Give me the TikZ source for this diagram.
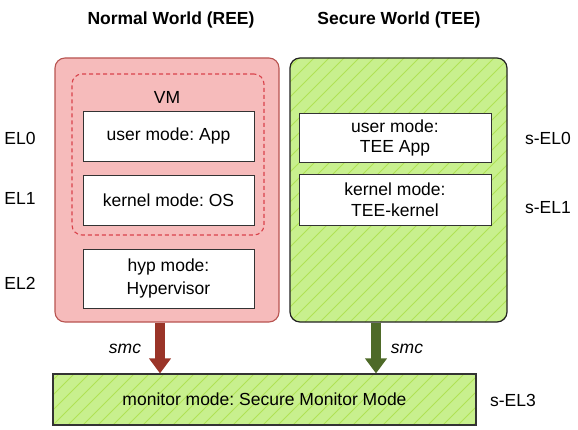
\documentclass[tikz,border=0pt]{standalone}
\usepackage{fontspec}
\setmainfont{Liberation Sans}
\usetikzlibrary{arrows.meta}
\frenchspacing
\definecolor{pinkfill}{HTML}{F6BBBB}
\definecolor{pinkline}{HTML}{B85450}
\definecolor{vmdash}{HTML}{D9434B}
\definecolor{boxline}{HTML}{333333}
\definecolor{greenbg}{HTML}{C8F08E}
\definecolor{hatchcol}{HTML}{B0E255}
\definecolor{swline}{HTML}{222222}
\definecolor{redarr}{HTML}{9A3428}
\definecolor{greenarr}{HTML}{4E6A28}
\begin{document}
\frenchspacing
\begin{tikzpicture}[x=1pt,y=-1pt,
  font=\fontsize{17.5}{21}\selectfont,
  wbox/.style={draw=boxline, fill=white, line width=0.9pt, align=center, inner sep=0pt},
  hatched/.style={fill=greenbg, path picture={
      \foreach \k in {-300,-285,...,450}{
        \draw[hatchcol, line width=1pt] ([xshift=\k pt]path picture bounding box.south west) -- ++(300pt,300pt);}}},
  lbl/.style={inner sep=0pt},
  bigarrow/.style={line width=10pt, -{Triangle[width=21pt,length=15pt]}}
]
\useasboundingbox (0,0) rectangle (578,430);

% titles
\node[lbl, font=\fontsize{17.5}{21}\selectfont\bfseries] (t1) at (171,20) {Normal World (REE)};
\node[lbl, font=\fontsize{17.5}{21}\selectfont\bfseries] (t2) at (399,20) {Secure World (TEE)};

% normal world
\node[draw=pinkline, fill=pinkfill, line width=1.1pt, rounded corners=10pt,
      minimum width=224pt, minimum height=264pt, inner sep=0pt] (nw) at (167,190) {};
\node[draw=vmdash, dash pattern=on 4pt off 3pt, line width=1.1pt, rounded corners=10pt,
      minimum width=192pt, minimum height=161pt, inner sep=0pt] (vm) at (168,154.5) {};
\node[lbl] (vmt) at (167,97) {VM};
\node[wbox, minimum width=171pt, minimum height=50pt] (app) at (168.5,136) {user mode: App};
\node[wbox, minimum width=171pt, minimum height=50pt] (os) at (168.5,200) {kernel mode: OS};
\node[wbox, minimum width=171pt, minimum height=59pt, font=\fontsize{17.5}{23}\selectfont] (hyp) at (168.5,278.5) {hyp mode:\\Hypervisor};

% secure world
\node[draw=swline, hatched, line width=1.2pt, rounded corners=10pt,
      minimum width=217pt, minimum height=264pt, inner sep=0pt] (sw) at (398.5,190) {};
\node[wbox, minimum width=192pt, minimum height=49pt, font=\fontsize{17.5}{20}\selectfont] (teeapp) at (395,137.5) {user mode:\\TEE App};
\node[wbox, minimum width=192pt, minimum height=51pt, font=\fontsize{17.5}{21}\selectfont] (teek) at (395,199.5) {kernel mode:\\TEE-kernel};

% monitor
\node[draw=boxline, hatched, line width=1.1pt, minimum width=423pt, minimum height=51pt, inner sep=0pt] (mon) at (264.5,399.5) {monitor mode: Secure Monitor Mode};

% level labels
\node[lbl] (el0) at (20,138) {EL0};
\node[lbl] (el1) at (20,198) {EL1};
\node[lbl] (el2) at (20,283) {EL2};
\node[lbl] (sel0) at (548,138) {s-EL0};
\node[lbl] (sel1) at (548,208) {s-EL1};
\node[lbl] (sel3) at (513,400) {s-EL3};

% smc arrows
\coordinate (ra) at (160,374);
\coordinate (ga) at (376,374);
\draw[bigarrow, redarr] (ra |- nw.south) -- (ra |- mon.north);
\draw[bigarrow, greenarr] (ga |- sw.south) -- (ga |- mon.north);
\node[lbl, font=\fontsize{17.5}{21}\selectfont\itshape] (smc1) at (125,349) {smc};
\node[lbl, font=\fontsize{17.5}{21}\selectfont\itshape] (smc2) at (407,349) {smc};
\end{tikzpicture}
\end{document}
